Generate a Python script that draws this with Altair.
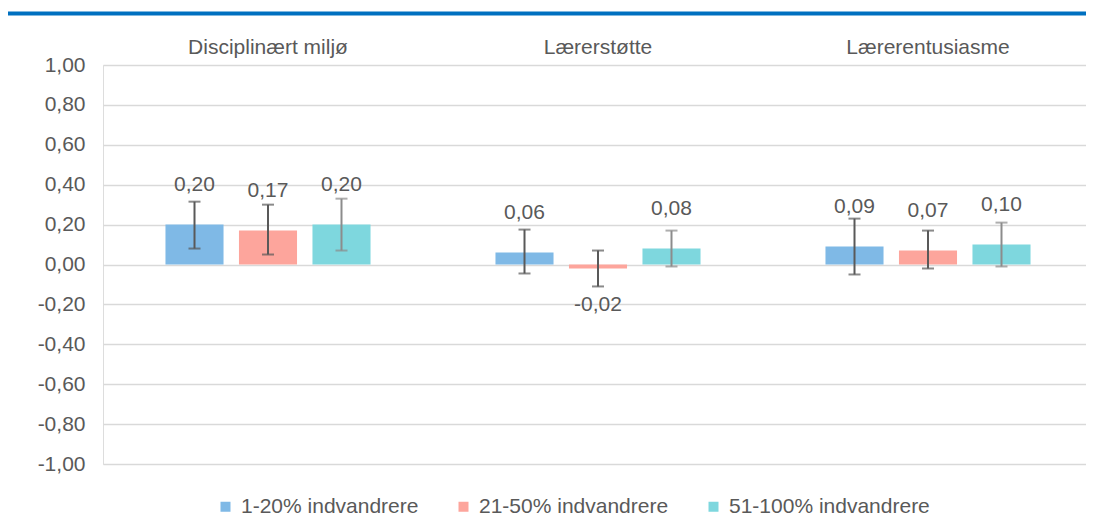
import altair as alt
import pandas as pd

categories = ["Disciplinært miljø", "Lærerstøtte", "Lærerentusiasme"]
groups = ["1-20% indvandrere", "21-50% indvandrere", "51-100% indvandrere"]
colors = ["#7FB9E6", "#FDA59C", "#7ED7DE"]

# mean values per group (in category order)
val_1_20 = [0.20, 0.06, 0.09]
val_21_50 = [0.17, -0.02, 0.07]
val_51_100 = [0.20, 0.08, 0.10]

# error bar lower / upper ends
lo_1_20 = [0.08, -0.045, -0.05]
hi_1_20 = [0.315, 0.175, 0.23]
lo_21_50 = [0.05, -0.11, -0.02]
hi_21_50 = [0.30, 0.07, 0.17]
lo_51_100 = [0.07, -0.01, -0.01]
hi_51_100 = [0.33, 0.17, 0.21]

y_ticks = [-1.0, -0.8, -0.6, -0.4, -0.2, 0.0, 0.2, 0.4, 0.6, 0.8, 1.0]

rows = []
for g, vals, los, his in [
    (groups[0], val_1_20, lo_1_20, hi_1_20),
    (groups[1], val_21_50, lo_21_50, hi_21_50),
    (groups[2], val_51_100, lo_51_100, hi_51_100),
]:
    for c, v, l, h in zip(categories, vals, los, his):
        rows.append({"category": c, "group": g, "value": v, "lo": l, "hi": h,
                     "label": f"{v:.2f}".replace(".", ",")})
df = pd.DataFrame(rows)

FONT = "Liberation Sans"
TXT = "#595959"

yscale = alt.Scale(domain=[-1, 1], nice=False, zero=False)
yaxis = alt.Axis(values=y_ticks,
                 labelExpr="replace(replace(format(datum.value, '.2f'), '.', ','), '\u2212', '-')",
                 title=None, ticks=False, domain=False, grid=True,
                 gridColor="#d9d9d9", gridWidth=1.5, labelPadding=18,
                 labelFontSize=21, labelColor=TXT, labelFont=FONT)
x = alt.X("category:N", sort=categories,
          scale=alt.Scale(paddingInner=0, paddingOuter=0, range=[0, 990]),
          axis=alt.Axis(orient="top", title=None, ticks=False, domain=False,
                        labelPadding=8, labelFontSize=21, labelColor=TXT,
                        labelFont=FONT, labelAngle=0, grid=False))
xo = alt.XOffset("group:N", sort=groups,
                 scale=alt.Scale(paddingInner=0.21, paddingOuter=0.85))

base = alt.Chart(df)

bars = base.mark_bar().encode(
    x=x, xOffset=xo,
    y=alt.Y("value:Q", scale=yscale, axis=yaxis),
    color=alt.Color("group:N", sort=groups,
                    scale=alt.Scale(domain=groups, range=colors),
                    legend=alt.Legend(orient="none", legendX=112, legendY=431,
                                      direction="horizontal", title=None,
                                      symbolType="square", symbolSize=100,
                                      symbolStrokeWidth=0, labelLimit=400,
                                      labelFontSize=21, labelColor=TXT,
                                      labelFont=FONT, columnPadding=34,
                                      labelOffset=5)),
)

err_color = alt.condition("datum.group == '51-100% indvandrere'",
                          alt.value("#8c8c8c"), alt.value("#595959"))

err = base.mark_rule(strokeWidth=2).encode(
    x=x, xOffset=xo,
    y=alt.Y("lo:Q", scale=yscale, axis=yaxis), y2="hi:Q",
    color=err_color,
)
cap_hi = base.mark_tick(size=12, thickness=2).encode(
    x=x, xOffset=xo, y=alt.Y("hi:Q", scale=yscale, axis=yaxis), color=err_color)
cap_lo = base.mark_tick(size=12, thickness=2).encode(
    x=x, xOffset=xo, y=alt.Y("lo:Q", scale=yscale, axis=yaxis), color=err_color)

lab_pos = base.transform_filter("datum.value >= 0").mark_text(
    dy=-40, fontSize=21, font=FONT, color=TXT, baseline="middle").encode(
    x=x, xOffset=xo, y=alt.Y("value:Q", scale=yscale, axis=yaxis), text="label:N")
lab_neg = base.transform_filter("datum.value < 0").mark_text(
    dy=37, fontSize=21, font=FONT, color=TXT, baseline="middle").encode(
    x=x, xOffset=xo, y=alt.Y("value:Q", scale=yscale, axis=yaxis), text="label:N")

top_line = alt.Chart(pd.DataFrame({"k": [0]})).mark_rule(
    color="#0070C0", strokeWidth=4).encode(
    x=alt.value(-95), x2=alt.value(983), y=alt.value(-51.5))

chart = alt.layer(bars, err, cap_hi, cap_lo, lab_pos, lab_neg, top_line).properties(
    width=983, height=399,
    autosize=alt.AutoSizeParams(type="none"),
    padding={"left": 95, "top": 57, "right": 0, "bottom": 60},
).configure_view(stroke=None).configure(font=FONT)

chart.save("out.html", embed_options={"renderer": "svg", "actions": False})
